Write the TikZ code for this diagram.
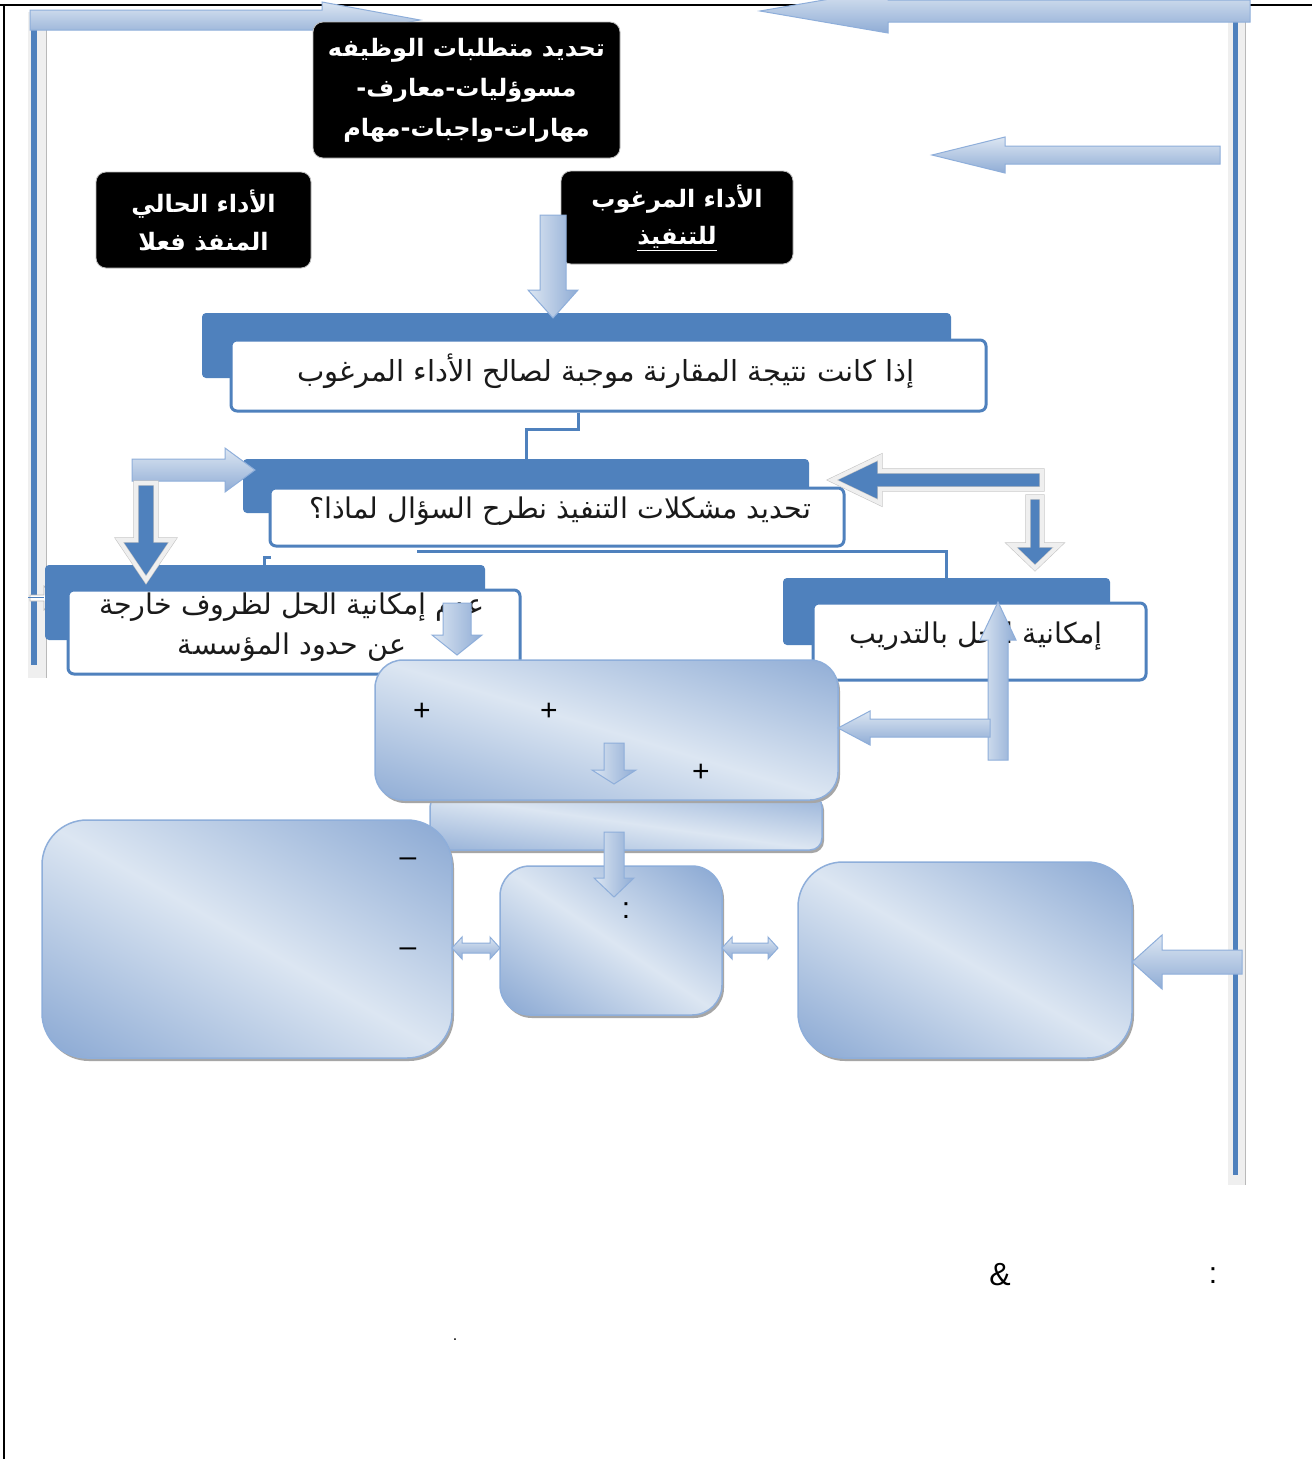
\documentclass[tikz,border=0pt]{standalone}
\usepackage{fontspec}
\setmainfont{Liberation Sans}
\newfontfamily\arabicfont[Script=Arabic]{DejaVu Sans}
\TeXXeTstate=1
\newcommand{\artxt}[1]{{\arabicfont\beginR #1\endR}}
\usetikzlibrary{shadows}
\definecolor{dkblue}{HTML}{4F81BD}
\definecolor{glight}{HTML}{DCE6F2}
\definecolor{gdark}{HTML}{8FACD5}
\definecolor{gedge}{HTML}{8EAEDA}
\definecolor{barbg}{HTML}{EFEFEF}
\definecolor{txtdark}{HTML}{1A1A1A}
\pgfdeclarehorizontalshading{bluediag}{100bp}{color(0bp)=(gdark); color(18bp)=(gdark); color(50bp)=(glight); color(82bp)=(gdark); color(100bp)=(gdark)}
% horizontal block arrow: [style]{tail x}{head base x}{tip x}{centre y}{half band}{half head}
\newcommand{\hbarrow}[7][]{\path[#1] ({#2},{#5-#6}) -- ({#3},{#5-#6}) -- ({#3},{#5-#7}) -- ({#4},{#5}) -- ({#3},{#5+#7}) -- ({#3},{#5+#6}) -- ({#2},{#5+#6}) -- cycle;}
% vertical block arrow: [style]{tail y}{head base y}{tip y}{centre x}{half band}{half head}
\newcommand{\vbarrow}[7][]{\path[#1] ({#5-#6},{#2}) -- ({#5-#6},{#3}) -- ({#5-#7},{#3}) -- ({#5},{#4}) -- ({#5+#7},{#3}) -- ({#5+#6},{#3}) -- ({#5+#6},{#2}) -- cycle;}
% double headed horizontal arrow: [style]{x0}{x1}{centre y}{half band}{half head}
\newcommand{\dbarrow}[6][]{\path[#1] ({#2},{#4}) -- ({#2+10},{#4-#6}) -- ({#2+10},{#4-#5}) -- ({#3-10},{#4-#5}) -- ({#3-10},{#4-#6}) -- ({#3},{#4}) -- ({#3-10},{#4+#6}) -- ({#3-10},{#4+#5}) -- ({#2+10},{#4+#5}) -- ({#2+10},{#4+#6}) -- cycle;}
\begin{document}
\begin{tikzpicture}[x=1pt,y=-1pt,
  blackbox/.style={fill=black, draw=gray!50, line width=0.8pt, rounded corners=10pt, inner sep=0pt, text=white, align=center,
     font=\fontsize{24}{40}\selectfont\bfseries},
  backbox/.style={fill=dkblue, rounded corners=4pt, inner sep=0pt},
  frontbox/.style={fill=white, draw=dkblue, line width=3pt, rounded corners=6pt, inner sep=0pt},
  boxtext/.style={text=txtdark, align=center, inner sep=0pt, font=\fontsize{29}{40}\selectfont},
  gbox/.style={shading=bluediag, shading angle=#1, draw=gedge, line width=1.5pt, inner sep=0pt,
     drop shadow={shadow xshift=2pt, shadow yshift=-3pt, fill=gray!70, opacity=1}},
  conn/.style={draw=dkblue, line width=3pt},
  lightarrow/.style={top color=glight, bottom color=gdark, draw=gedge, line width=1pt},
  lightvarrow/.style={left color=glight, right color=gdark, draw=gedge, line width=1pt},
  darkarrow/.style={fill=dkblue, draw=gray!45, double=barbg, double distance=4pt, line width=0.6pt},
  sym/.style={inner sep=0pt, font=\fontsize{30}{32}\selectfont}
]
\useasboundingbox (0,0) rectangle (1312,1459);
\fill[white] (0,0) rectangle (1312,1459);
% page frame
\draw[black, line width=1.5pt] (0,5) -- (1312,5);
\draw[black, line width=1.5pt] (4,5) -- (4,1459);

% left return bar with arrow to the top box
\fill[barbg] (28,12) rectangle (47,678);
\draw[gray!55, line width=0.8pt] (46.5,30) -- (46.5,678);
\fill[dkblue] (31,30) rectangle (37,665);
\hbarrow[fill=white, draw=gray!55, line width=0.8pt]{30}{44}{56}{598}{3}{12}
\draw[dkblue, line width=1pt] (28,597) -- (44,597);
\hbarrow[lightarrow]{30}{322}{420}{20}{10}{18}

% right return bar with arrows
\fill[barbg] (1228,20) rectangle (1246,1185);
\draw[gray!55, line width=0.8pt] (1245.5,22) -- (1245.5,1185);
\fill[dkblue] (1233,22) rectangle (1238,1175);
\hbarrow[lightarrow]{1250}{888}{760}{11}{11}{22}
\hbarrow[lightarrow]{1220}{1005}{932}{155}{9}{18}

% black boxes
\node[blackbox, minimum width=307pt, minimum height=136pt] (k1) at (466.5,90)
  {\artxt{تحديد متطلبات الوظيفه}\\\artxt{مسوؤليات-معارف-}\\\artxt{مهارات-واجبات-مهام}};
\node[blackbox, minimum width=215pt, minimum height=96pt, font=\fontsize{24}{38}\selectfont\bfseries] (k2) at (203.5,220)
  {\artxt{الأداء الحالي}\\\artxt{المنفذ فعلا}};
\node[blackbox, minimum width=232pt, minimum height=93pt, font=\fontsize{24}{37}\selectfont\bfseries] (k3) at (677,217.5)
  {\artxt{الأداء المرغوب}\\\underline{\artxt{للتنفيذ}}};

% box 4
\node[backbox, minimum width=749pt, minimum height=65pt] (b4) at (576.5,345.5) {};
\node[frontbox, minimum width=755pt, minimum height=71pt] (f4) at (608.5,375.5) {};
\node[boxtext] (t4) at (606,371) {\artxt{إذا كانت نتيجة المقارنة موجبة لصالح الأداء المرغوب}};
\vbarrow[lightvarrow]{215}{290}{318}{553}{13}{25}

% box 5
\node[backbox, minimum width=566pt, minimum height=54pt] (b5) at (526,486) {};
\node[frontbox, minimum width=574pt, minimum height=58pt] (f5) at (557,517) {};
\node[boxtext, font=\fontsize{28.5}{40}\selectfont] (t5) at (560,511) {\artxt{تحديد مشكلات التنفيذ نطرح السؤال لماذا؟}};
\draw[conn] ([xshift=-30.5pt]f4.south) -- ++(0,17) -| (b5.north);

% box 6
\node[backbox, minimum width=440pt, minimum height=75pt] (b6) at (265,602.5) {};
\node[frontbox, minimum width=452pt, minimum height=84pt] (f6) at (294,632) {};
\node[boxtext, font=\fontsize{28.5}{40}\selectfont] (t6) at (292,627) {\artxt{عدم إمكانية الحل لظروف خارجة}\\\artxt{عن حدود المؤسسة}};
\draw[conn] ([xshift=2pt,yshift=-10pt]f5.south west) -| ([xshift=220pt,yshift=-8pt]b6.north west);

% box 7
\node[backbox, minimum width=327pt, minimum height=67pt] (b7) at (946.5,611.5) {};
\node[frontbox, minimum width=333pt, minimum height=77pt] (f7) at (979.5,641.5) {};
\node[boxtext, font=\fontsize{28.5}{40}\selectfont] (t7) at (976,636) {\artxt{إمكانية الحل بالتدريب}};
\draw[conn] ([xshift=-140pt,yshift=-4pt]f5.south) -| (b7.north);

% bent arrows around box 5
\hbarrow[lightarrow]{132}{225}{255}{470}{11}{22}
\vbarrow[darkarrow]{483}{540}{580}{146}{10}{27}
\hbarrow[darkarrow]{1042}{880}{832}{480}{9}{23}
\vbarrow[darkarrow]{497}{545}{568}{1035}{7}{24}

% arrow inside box 6
\vbarrow[lightvarrow]{603}{635}{655}{457}{14}{25}

% gradient boxes
\node[gbox=82, rounded corners=12pt, minimum width=392pt, minimum height=55pt] (gb) at (626,822.5) {};
\node[gbox=73, rounded corners=28pt, minimum width=463pt, minimum height=140pt] (ga) at (606.5,730) {};
\node[sym] at (422,712) {+};
\node[sym] at (549,712) {+};
\node[sym] at (701,773) {+};
\vbarrow[lightvarrow]{743}{770}{784}{614}{10}{22}

% arrows from box 7
\vbarrow[lightvarrow]{760}{640}{602}{998}{10}{18}
\hbarrow[lightarrow]{990}{870}{838}{728}{9}{17}

\node[gbox=60, rounded corners=45pt, minimum width=410pt, minimum height=238pt] (gc) at (247,939) {};
\node[gbox=56, rounded corners=30pt, minimum width=222pt, minimum height=149pt] (gd) at (611,940.5) {};
\node[gbox=60, rounded corners=45pt, minimum width=334pt, minimum height=196pt] (ge) at (965,960) {};
\node[sym] at (408,862) {–};
\node[sym] at (408,952) {–};
\node[sym] at (626,911) {:};

\vbarrow[lightvarrow]{832}{878}{897}{614}{10}{20}
\dbarrow[lightarrow]{452}{500}{948}{5}{11}
\dbarrow[lightarrow]{722}{778}{948}{5}{11}
\hbarrow[lightarrow]{1242}{1162}{1132}{962}{12}{27}

% stray marks at the bottom
\node[inner sep=0pt, font=\fontsize{32}{34}\selectfont] at (1000,1275) {\&};
\node[sym] at (1213,1276) {:};
\node[inner sep=0pt, font=\fontsize{16}{18}\selectfont] at (455,1340) {.};
\end{tikzpicture}
\end{document}
